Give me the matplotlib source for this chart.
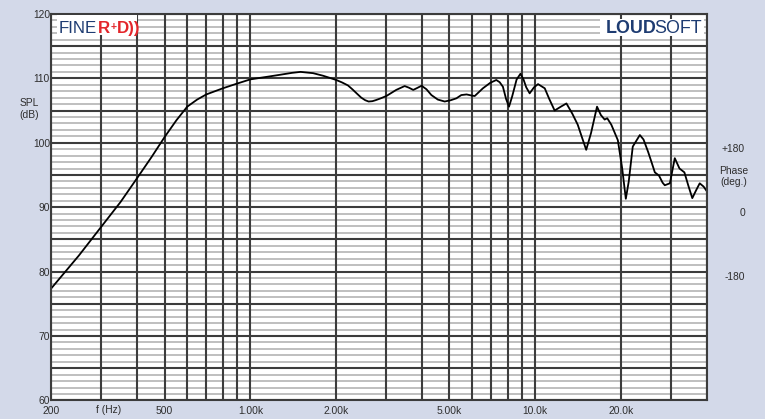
import numpy as np
import matplotlib
matplotlib.use("Agg")
import matplotlib.pyplot as plt
from matplotlib.ticker import FixedLocator, LogLocator, MultipleLocator, NullFormatter
import matplotlib.transforms as mtransforms

plt.rcParams['font.family'] = ['Liberation Sans', 'DejaVu Sans']

# SPL curve (Hz, dB)
freq = [200, 250, 300, 350, 400, 450, 500, 550, 600, 650, 700, 800, 900,
        1000, 1130, 1270, 1400, 1500, 1660, 1800, 2000, 2100, 2200, 2280,
        2360, 2450, 2530, 2600, 2680, 2750, 2870, 3000, 3250, 3480, 3600,
        3730, 3850, 3990, 4150, 4320, 4550, 4810, 5050, 5290, 5500, 5740,
        5950, 6130, 6550, 6950, 7300, 7500, 7700, 7900, 8090, 8300, 8600,
        8870, 9100, 9300, 9560, 9900, 10230, 10800, 11200, 11700, 12300,
        12870, 13500, 14100, 14600, 15100, 15700, 16480, 17000, 17530, 17900,
        18500, 19500, 20200, 20800, 21300, 22000, 23300, 24000, 24900, 25600,
        26300, 27200, 28000, 28500, 29700, 30900, 32100, 33400, 34500, 35600,
        36700, 37800, 39000, 40000]
spl = [77.4, 82.5, 87.0, 90.8, 94.5, 97.8, 100.9, 103.5, 105.6, 106.7, 107.5,
       108.45, 109.2, 109.84, 110.2, 110.55, 110.85, 111.0, 110.8, 110.4,
       109.75, 109.35, 108.9, 108.3, 107.67, 107.0, 106.6, 106.4, 106.45,
       106.6, 106.9, 107.25, 108.2, 108.8, 108.55, 108.2, 108.5, 108.85,
       108.3, 107.4, 106.7, 106.4, 106.6, 106.9, 107.4, 107.5, 107.35, 107.25,
       108.45, 109.3, 109.74, 109.4, 108.7, 106.8, 105.6, 107.2, 109.8, 110.7,
       109.8, 108.6, 107.67, 108.6, 109.1, 108.45, 106.8, 105.0, 105.6, 106.1,
       104.5, 102.8, 100.8, 98.9, 101.5, 105.6, 104.3, 103.6, 103.8, 102.8,
       100.4, 96.0, 91.3, 94.0, 99.4, 101.2, 100.5, 98.6, 97.0, 95.4, 94.9,
       93.8, 93.4, 93.7, 97.6, 96.0, 95.4, 93.3, 91.4, 92.6, 93.7, 93.2, 92.5]

x_ticks = [200, 500, 1000, 2000, 5000, 10000, 20000]
x_labels = ['200', '500', '1.00k', '2.00k', '5.00k', '10.0k', '20.0k']
y_ticks = [60, 70, 80, 90, 100, 110, 120]

phase_ticks = [180, 0, -180]
phase_labels = ['+180', '0', '-180']

bg = '#d3d9e9'
navy = '#1e3c72'
red = '#e3262b'
dark = '#3c3c3c'
light = '#b4b4b4'
txt = '#2e2e2e'

fig = plt.figure(figsize=(7.65, 4.19), dpi=100, facecolor=bg)
ax = fig.add_axes([0.0671, 0.0444, 0.8567, 0.9224])
ax.set_facecolor('white')

ax.plot(freq, spl, color='black', lw=1.3, zorder=2)

ax.set_xscale('log')
ax.set_xlim(200, 40000)
ax.set_ylim(60, 120)

# x grid: every 1-2-3..9 position, all dark
ax.xaxis.set_major_locator(FixedLocator(x_ticks))
ax.set_xticklabels(x_labels)
ax.xaxis.set_minor_locator(LogLocator(base=10, subs=np.arange(1, 10)))
ax.xaxis.set_minor_formatter(NullFormatter())

# y grid: dark every 5, light every 1, labels every 10
ax.yaxis.set_major_locator(MultipleLocator(5))
ax.yaxis.set_major_formatter(lambda v, p: f'{v:.0f}' if v in y_ticks else '')
ax.yaxis.set_minor_locator(MultipleLocator(1))

ax.grid(which='both', axis='x', color=dark, lw=1.5)
ax.grid(which='major', axis='y', color=dark, lw=1.5)
ax.grid(which='minor', axis='y', color=light, lw=1.2)
ax.xaxis.set_zorder(1.6)

ax.tick_params(which='both', length=0, labelsize=7.4, colors=txt)
ax.tick_params(axis='y', pad=1)
ax.tick_params(axis='x', pad=4)
for s in ax.spines.values():
    s.set_color(dark)
    s.set_linewidth(1.5)

ax.text(0.088, -0.0256, 'f (Hz)', transform=ax.transAxes, ha='center',
        va='center', fontsize=7.4, color=txt)
ax.text(-0.034, 0.754, 'SPL\n(dB)', transform=ax.transAxes, ha='center',
        va='center', fontsize=7.4, color=txt, linespacing=1.15)

# phase scale on the right (0 deg sits at ~89 dB, 180 deg per 10 dB)
blend = mtransforms.blended_transform_factory(ax.transAxes, ax.transData)
for p, lab in zip(phase_ticks, phase_labels):
    ax.text(1.0584, 89.1 + p / 18, lab, transform=blend, ha='right',
            va='center', fontsize=7.4, color=txt)
ax.text(1.0416, 0.5795, 'Phase\n(deg.)', transform=ax.transAxes, ha='center',
        va='center', fontsize=7.4, color=txt, linespacing=1.15)

# logos (white boxes hide the grid behind them)
ax.add_patch(plt.Rectangle((0.0087, 0.945), 0.1221, 0.052, transform=ax.transAxes,
                           facecolor='white', edgecolor='none', zorder=3))
ax.add_patch(plt.Rectangle((0.8375, 0.943), 0.158, 0.044, transform=ax.transAxes,
                           facecolor='white', edgecolor='none', zorder=3))

t1 = ax.text(0.0117, 0.9506, 'FINE', transform=ax.transAxes, ha='left',
             va='baseline', fontsize=12.2, color=navy, zorder=4)
t_r = ax.annotate('R', xy=(1, 0), xycoords=t1, xytext=(0.6, 0),
                  textcoords='offset points', ha='left', va='bottom',
                  fontsize=12.2, color=red, fontweight='bold', zorder=4)
ax.annotate('+', xy=(1, 0), xycoords=t_r, xytext=(0.2, 2.6),
            textcoords='offset points', ha='left', va='bottom',
            fontsize=7.5, color=red, fontweight='bold', zorder=4)
ax.annotate('D))', xy=(1, 0), xycoords=t_r, xytext=(4.6, 0),
            textcoords='offset points', ha='left', va='bottom',
            fontsize=12.2, color=red, fontweight='bold', zorder=4)

t2 = ax.text(0.9924, 0.951, 'SOFT', transform=ax.transAxes, ha='right',
             va='baseline', fontsize=12.9, color=navy, zorder=4)
ax.annotate('LOUD', xy=(0, 0), xycoords=t2, xytext=(2.0, 0),
            textcoords='offset points', ha='right', va='bottom',
            fontsize=12.9, color=navy, fontweight='bold', zorder=4)

fig.savefig('out.png', dpi=100, facecolor=bg)
